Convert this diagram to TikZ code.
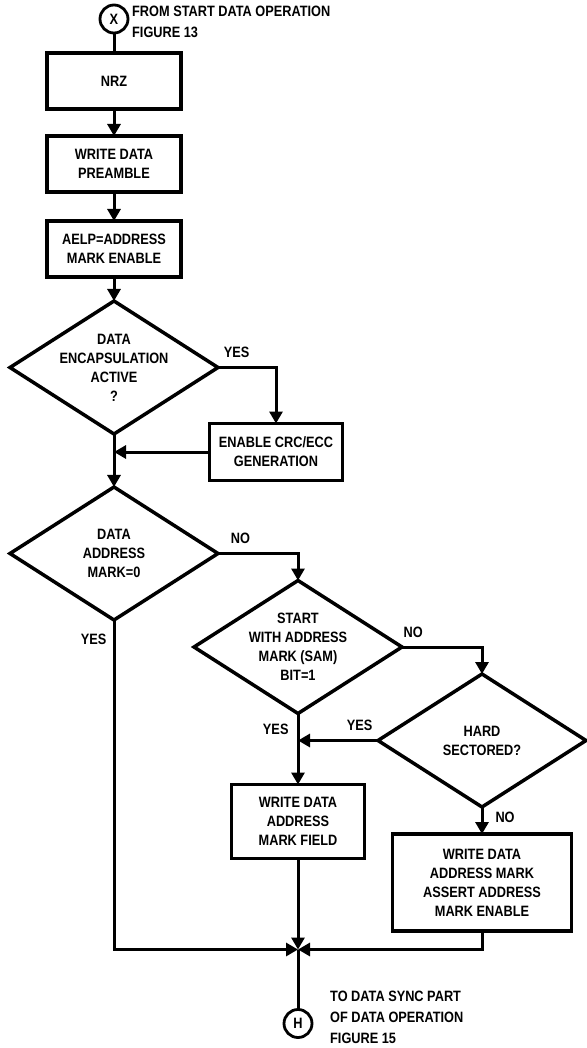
\documentclass[tikz,border=0pt]{standalone}
\usepackage{fontspec}
\setmainfont{Liberation Sans}[FakeStretch=0.85]
\usetikzlibrary{arrows.meta,positioning,shapes.geometric}
\tikzset{
  base/.style={font=\bfseries\fontsize{15}{19}\selectfont,align=center,draw=black,line width=3.5pt,fill=white,inner sep=2pt,outer sep=0pt},
  process/.style={base,minimum width=134pt,minimum height=56pt},
  decision/.style={base,diamond,aspect=1.56,inner sep=-4pt,minimum width=208pt,minimum height=133pt},
  connector/.style={base,circle,line width=2.8pt,minimum size=28pt,inner sep=0pt},
  note/.style={font=\bfseries\fontsize{15}{21}\selectfont,align=left,inner sep=0pt},
  answer/.style={font=\bfseries\fontsize{15}{15}\selectfont,inner sep=0pt},
  flow/.style={-{Triangle[length=12pt,width=13pt]},line width=3pt},
  link/.style={line width=3pt}
}

\begin{document}
\begin{tikzpicture}[x=1pt,y=1pt]
\useasboundingbox (0,0) rectangle (586,-1048);
\node[connector] (start) at (114,-19) {X};
\node[note,right=4pt of start,yshift=-3pt] (starttxt) {FROM START DATA OPERATION\\FIGURE 13};

\node[process,below=20pt of start] (nrz) {NRZ};
\node[process,below=27pt of nrz] (preamble) {WRITE DATA\\PREAMBLE};
\node[process,below=29pt of preamble] (aelp) {AELP=ADDRESS\\MARK ENABLE};
\node[decision,below=24pt of aelp] (encap) {DATA\\ENCAPSULATION\\ACTIVE\\?};
\node[process,anchor=north,minimum width=133pt,minimum height=57pt] (crc) at ([xshift=58pt,yshift=-56pt]encap.east) {ENABLE CRC/ECC\\GENERATION};
\node[decision,below=53pt of encap] (addr0) {DATA\\ADDRESS\\MARK=0};
\node[decision,anchor=north] (sam) at ([xshift=80pt,yshift=-27pt]addr0.east) {START\\WITH ADDRESS\\MARK (SAM)\\BIT=1};
\node[decision,anchor=north] (hard) at ([xshift=80pt,yshift=-27pt]sam.east) {HARD\\SECTORED?};
\node[process,minimum width=133pt,minimum height=74pt,below=71pt of sam] (markfield) {WRITE DATA\\ADDRESS\\MARK FIELD};
\node[process,minimum width=179pt,minimum height=97pt,below=27pt of hard] (assert) {WRITE DATA\\ADDRESS MARK\\ASSERT ADDRESS\\MARK ENABLE};
\coordinate[below=91pt of markfield] (join);
\node[connector,below=60pt of join] (goal) {H};
\node[note,right=18pt of goal,yshift=6pt] (goaltxt) {TO DATA SYNC PART\\OF DATA OPERATION\\FIGURE 15};

\draw[link] (start) -- (nrz);
\draw[flow] (nrz) -- (preamble);
\draw[flow] (preamble) -- (aelp);
\draw[flow] (aelp) -- (encap);
\draw[flow] (encap.east) -| node[answer,above=8pt,pos=0.16]{YES} (crc.north);
\draw[flow] (encap) -- (addr0);
\draw[flow] (crc.west) -- (crc.west -| encap.south);
\draw[flow] (addr0.east) -| node[answer,above=8pt,pos=0.14]{NO} (sam.north);
\draw[flow] (addr0.south) |- node[answer,left=6pt,pos=0.03]{YES} (join);
\draw[flow] (sam.east) -| node[answer,above=8pt,pos=0.07]{NO} (hard.north);
\draw[flow] (sam) -- node[answer,left=8pt,pos=0.22]{YES} (markfield);
\draw[flow] (hard.west) -- node[answer,above=8pt,pos=0.23]{YES} (hard.west -| sam.south);
\draw[flow] (hard) -- node[answer,right=12pt,pos=0.37]{NO} (assert);
\draw[flow] (markfield) -- (join);
\draw[flow] (assert.south) |- (join);
\draw[link] (join) -- (goal);
\end{tikzpicture}
\end{document}
